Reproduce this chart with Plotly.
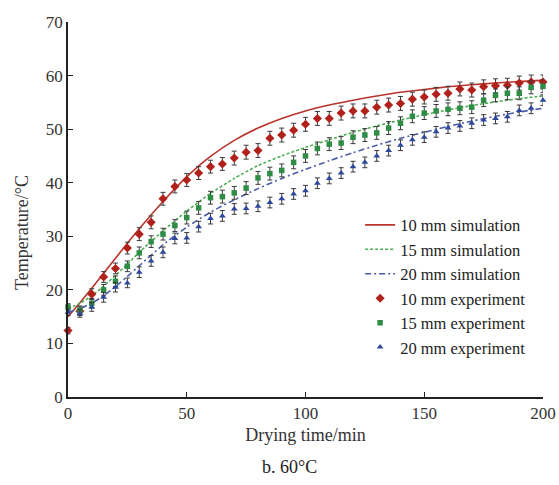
import plotly.graph_objects as go

# ---------------- data ----------------
t_exp = list(range(0, 205, 5))

exp_10 = [12.4, 16.0, 19.2, 22.4, 24.0, 27.8, 30.4, 32.6, 37.0, 39.3, 40.5,
          41.8, 43.0, 43.5, 44.6, 45.7, 46.0, 48.3, 48.9, 49.8, 50.9,
          52.0, 52.0, 53.0, 53.4, 53.4, 54.1, 54.5, 54.8, 55.6, 56.0,
          56.5, 56.7, 57.5, 57.3, 57.9, 58.1, 58.2, 58.6, 58.8, 58.8]
exp_15 = [16.8, 16.2, 17.5, 20.0, 21.6, 24.4, 26.9, 29.0, 30.4, 32.0, 33.5,
          35.3, 37.2, 37.4, 38.1, 39.0, 40.9, 41.7, 42.3, 43.8, 45.0,
          46.4, 47.2, 47.4, 48.5, 48.9, 49.3, 50.2, 51.1, 52.4, 53.0,
          53.4, 53.7, 53.9, 54.1, 55.4, 56.3, 56.7, 56.7, 57.8, 58.0]
exp_20 = [15.8, 15.6, 16.8, 18.6, 20.5, 21.3, 23.3, 25.4, 27.0, 29.6, 29.7,
          31.8, 33.3, 33.8, 35.1, 35.2, 35.6, 36.3, 37.0, 37.9, 38.5,
          39.9, 40.8, 41.8, 43.0, 43.8, 45.0, 46.0, 47.0, 48.0, 48.5,
          49.5, 50.2, 50.6, 51.1, 51.7, 52.0, 52.3, 53.5, 53.9, 55.4]

err_10 = [0.6, 0.8, 1.0, 1.0, 1.0, 1.1, 1.2, 1.2, 1.2, 1.2, 1.2,
          1.2, 1.2, 1.2, 1.3, 1.3, 1.3, 1.3, 1.3, 1.3, 1.3,
          1.3, 1.3, 1.3, 1.3, 1.3, 1.3, 1.3, 1.3, 1.3, 1.3,
          1.3, 1.3, 1.3, 1.3, 1.3, 1.3, 1.3, 1.3, 1.3, 1.3]
err_15 = [0.6, 0.8, 0.9, 1.0, 1.0, 1.0, 1.1, 1.1, 1.1, 1.1, 1.2,
          1.2, 1.2, 1.2, 1.2, 1.2, 1.2, 1.2, 1.2, 1.2, 1.2,
          1.2, 1.2, 1.2, 1.2, 1.2, 1.2, 1.2, 1.2, 1.2, 1.2,
          1.2, 1.2, 1.2, 1.2, 1.2, 1.2, 1.2, 1.2, 1.2, 1.2]
err_20 = [0.6, 0.7, 0.8, 0.9, 0.9, 0.9, 1.0, 1.0, 1.0, 1.0, 1.0,
          1.0, 1.0, 1.0, 1.0, 1.0, 1.0, 1.0, 1.0, 1.0, 1.0,
          1.0, 1.0, 1.0, 1.0, 1.0, 1.0, 1.0, 1.0, 1.0, 1.0,
          1.0, 1.0, 1.0, 1.0, 1.0, 1.0, 1.0, 1.0, 1.0, 1.0]

t_sim = [0, 5, 10, 15, 20, 25, 30, 40, 50, 60, 70, 80, 90, 100, 110, 120, 130,
         140, 150, 160, 170, 180, 190, 200]
sim_10 = [15.0, 17.6, 20.3, 23.1, 25.9, 28.7, 31.4, 36.5, 41.1, 44.9, 47.9,
          50.2, 52.0, 53.4, 54.5, 55.4, 56.2, 56.9, 57.4, 57.9, 58.3, 58.6,
          58.9, 59.1]
sim_15 = [16.5, 17.5, 18.9, 20.7, 22.7, 24.8, 27.0, 31.0, 34.7, 38.0, 40.8,
          43.2, 45.0, 46.6, 48.0, 49.4, 50.6, 51.7, 52.7, 53.6, 54.4, 55.1,
          55.7, 56.2]
sim_20 = [15.8, 16.5, 17.5, 18.9, 20.6, 22.5, 24.5, 28.4, 31.7, 34.5, 36.8,
          38.9, 40.8, 42.5, 44.1, 45.6, 47.0, 48.3, 49.4, 50.5, 51.5, 52.4,
          53.2, 53.9]

x_ticks = [0, 50, 100, 150, 200]
y_ticks = [0, 10, 20, 30, 40, 50, 60, 70]

names_sim = ["10 mm simulation", "15 mm simulation", "20 mm simulation"]
names_exp = ["10 mm experiment", "15 mm experiment", "20 mm experiment"]

# ---------------- styles ----------------
FONT = "Liberation Serif"
red, green, blue = "#b0211c", "#2e8c45", "#2d479c"
red_l, green_l, blue_l = "#b8342c", "#4fae55", "#4a5ca8"
err_col = "#3a3a3a"

fig = go.Figure()

for name, y, col, dash in [(names_sim[0], sim_10, red_l, "solid"),
                           (names_sim[1], sim_15, green_l, "3px,2px"),
                           (names_sim[2], sim_20, blue_l, "6px,3px,2px,3px")]:
    fig.add_trace(go.Scatter(x=t_sim, y=y, mode="lines", name=name,
                             line=dict(color=col, width=1.6, dash=dash,
                                       shape="spline", smoothing=0.6),
                             cliponaxis=False))

for name, y, e, col, sym, sz in [(names_exp[0], exp_10, err_10, red, "diamond", 7),
                                 (names_exp[1], exp_15, err_15, green, "square", 5.5),
                                 (names_exp[2], exp_20, err_20, blue, "triangle-up", 6)]:
    fig.add_trace(go.Scatter(x=t_exp, y=y, mode="markers", name=name,
                             marker=dict(color=col, symbol=sym, size=sz, line=dict(width=0)),
                             error_y=dict(type="data", array=e, color=err_col,
                                          thickness=1, width=2.5),
                             cliponaxis=False))

fig.update_layout(
    width=559, height=485,
    margin=dict(l=68, r=16, t=22, b=88, autoexpand=False),
    paper_bgcolor="white", plot_bgcolor="white",
    font=dict(family=FONT, size=17, color="#333333"),
    showlegend=True,
    legend=dict(x=0.975, y=0.505, xanchor="right", yanchor="top",
                bgcolor="rgba(0,0,0,0)", font=dict(family=FONT, size=16.5, color="#222222"),
                tracegroupgap=0, itemwidth=30),
    annotations=[
        dict(text="b. 60°C", x=0.466, y=-0.187, xref="paper", yref="paper",
             xanchor="center", yanchor="middle", showarrow=False,
             font=dict(family=FONT, size=18, color="#222222")),
        dict(text="Temperature/°C", x=-0.097, y=0.44, xref="paper", yref="paper",
             xanchor="center", yanchor="middle", textangle=-90, showarrow=False,
             font=dict(family=FONT, size=18, color="#333333")),
    ],
)

fig.update_xaxes(range=[0, 200], tickvals=x_ticks, ticks="inside", ticklen=5,
                 tickcolor="#222", tickwidth=1.3, showline=True, linecolor="#222",
                 linewidth=1.5, showgrid=False, zeroline=False, automargin=False,
                 title=dict(text="Drying time/min", standoff=6,
                            font=dict(family=FONT, size=18, color="#333333")))
fig.update_yaxes(range=[0, 70], tickvals=y_ticks, ticks="inside", ticklen=5,
                 tickcolor="#222", tickwidth=1.3, showline=True, linecolor="#222",
                 linewidth=1.5, showgrid=False, zeroline=False, automargin=False)

fig.write_html("out.html")
